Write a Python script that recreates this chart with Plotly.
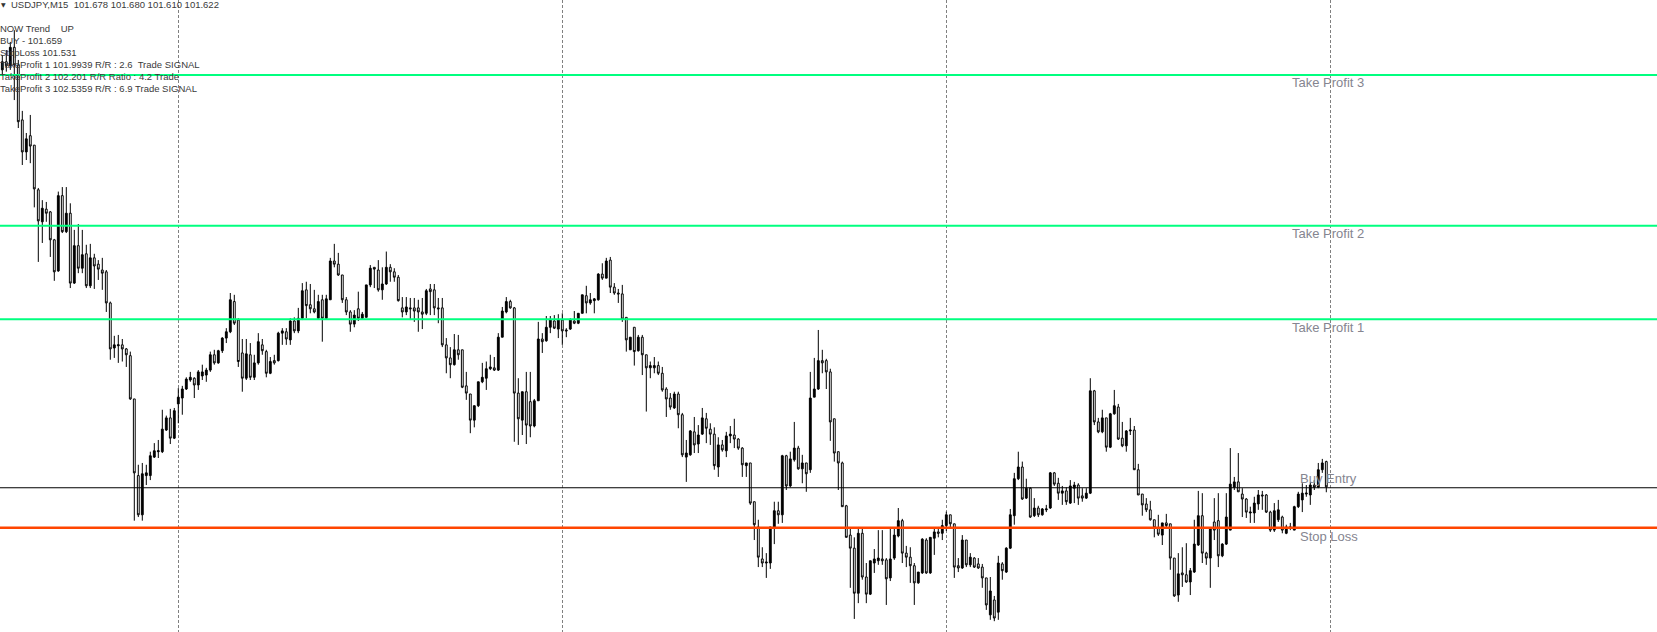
import plotly.graph_objects as go

# ---------------- data (USDJPY M15, bar index 0 = oldest visible bar) ----------------
open_ = [
102.547,102.565,102.556,102.597,102.558,102.436,102.365,102.401,102.380,102.281,
102.210,102.238,102.232,102.170,102.101,102.268,102.188,102.229,102.074,102.157,
102.107,102.139,102.068,102.130,102.116,102.103,102.099,102.030,101.930,101.935,
101.937,101.928,101.913,101.817,101.647,101.560,101.647,101.647,101.688,101.700,
101.700,101.748,101.775,101.730,101.806,101.819,101.839,101.859,101.863,101.848,
101.868,101.870,101.881,101.915,101.897,101.924,101.952,101.966,102.033,101.992,
101.919,101.863,101.915,101.865,101.897,101.937,101.922,101.874,101.902,101.902,
101.963,101.966,101.948,101.990,101.968,101.996,102.059,102.026,102.017,101.996,
102.037,101.996,102.037,102.123,102.116,102.092,102.037,102.010,101.983,102.017,
101.996,101.998,102.070,102.109,102.103,102.059,102.072,102.109,102.099,102.087,
102.019,102.010,102.019,102.019,102.019,102.010,102.007,102.061,102.059,102.019,
102.019,101.937,101.908,101.893,101.926,101.926,101.846,101.828,101.770,101.802,
101.855,101.863,101.884,101.886,101.881,101.954,102.010,102.033,102.019,101.830,
101.770,101.833,101.811,101.757,101.813,101.950,101.946,101.976,101.990,101.972,
101.992,101.970,101.972,101.990,101.985,102.007,102.046,102.030,102.035,102.037,
102.094,102.085,102.125,102.065,102.052,102.050,101.998,101.926,101.976,101.924,
101.954,101.915,101.886,101.886,101.891,101.874,101.839,101.819,101.797,101.828,
101.782,101.688,101.693,101.744,101.717,101.739,101.773,101.750,101.739,101.666,
101.715,101.702,101.735,101.737,101.728,101.708,101.669,101.675,101.589,101.533,
101.462,101.453,101.453,101.533,101.569,101.560,101.691,101.624,101.682,101.708,
101.662,101.675,101.660,101.821,101.839,101.902,101.902,101.877,101.773,101.700,
101.675,101.580,101.515,101.486,101.386,101.519,101.422,101.384,101.453,101.458,
101.462,101.460,101.420,101.464,101.513,101.547,101.475,101.466,101.447,101.409,
101.431,101.504,101.431,101.508,101.522,101.519,101.536,101.560,101.540,101.447,
101.442,101.504,101.449,101.464,101.451,101.444,101.420,101.338,101.371,101.344,
101.451,101.433,101.486,101.558,101.640,101.666,101.597,101.619,101.558,101.575,
101.560,101.571,101.575,101.653,101.630,101.608,101.613,101.586,101.619,101.626,
101.602,101.597,101.608,101.835,101.766,101.744,101.775,101.710,101.784,101.799,
101.730,101.713,101.746,101.748,101.660,101.606,101.584,101.571,101.549,101.531,
101.515,101.542,101.540,101.464,101.382,101.431,101.427,101.411,101.433,101.493,
101.558,101.475,101.464,101.544,101.547,101.469,101.495,101.526,101.621,101.633,
101.606,101.595,101.564,101.564,101.584,101.604,101.604,101.566,101.526,101.549,
101.555,101.519,101.531,101.526,101.578,101.593,101.606,101.604,101.626,101.621,
101.660,101.678]

high = [
102.580,102.591,102.609,102.635,102.569,102.456,102.407,102.447,102.380,102.285,
102.258,102.254,102.234,102.172,102.277,102.287,102.287,102.251,102.192,102.205,
102.192,102.159,102.161,102.139,102.125,102.130,102.103,102.033,101.957,101.959,
101.950,101.930,101.922,101.817,101.671,101.675,101.671,101.700,101.719,101.726,
101.793,101.780,101.795,101.797,101.841,101.846,101.865,101.877,101.865,101.881,
101.893,101.886,101.922,101.926,101.926,101.954,101.974,102.052,102.048,101.996,
101.950,101.950,101.941,101.915,101.963,101.950,101.926,101.910,101.915,101.966,
101.974,101.974,101.996,101.998,102.019,102.074,102.077,102.072,102.059,102.048,
102.048,102.048,102.130,102.161,102.141,102.092,102.043,102.014,102.014,102.055,
102.010,102.070,102.114,102.109,102.125,102.109,102.144,102.116,102.107,102.092,
102.043,102.043,102.041,102.041,102.037,102.041,102.061,102.072,102.072,102.041,
102.041,101.952,101.932,101.961,101.959,101.926,101.877,101.828,101.802,101.855,
101.897,101.900,101.915,101.910,101.963,102.021,102.043,102.037,102.021,101.863,
101.833,101.877,101.877,101.817,101.988,101.963,102.001,102.001,102.003,102.005,
102.007,101.974,101.996,102.012,102.007,102.048,102.068,102.052,102.041,102.096,
102.118,102.130,102.132,102.074,102.061,102.070,101.998,101.954,101.976,101.959,
101.959,101.915,101.900,101.910,101.900,101.888,101.843,101.830,101.833,101.833,
101.786,101.726,101.748,101.777,101.759,101.797,101.786,101.763,101.754,101.732,
101.726,101.744,101.757,101.773,101.730,101.710,101.675,101.675,101.589,101.549,
101.488,101.475,101.533,101.589,101.589,101.693,101.693,101.700,101.766,101.713,
101.693,101.675,101.877,101.908,101.970,101.926,101.906,101.884,101.773,101.700,
101.678,101.582,101.531,101.510,101.533,101.531,101.453,101.458,101.484,101.526,
101.526,101.464,101.533,101.533,101.575,101.551,101.491,101.488,101.453,101.433,
101.508,101.508,101.510,101.529,101.533,101.549,101.567,101.560,101.540,101.464,
101.515,101.504,101.475,101.466,101.464,101.451,101.420,101.422,101.380,101.469,
101.455,101.488,101.573,101.653,101.700,101.678,101.640,101.621,101.597,101.580,
101.575,101.582,101.655,101.655,101.642,101.624,101.621,101.637,101.633,101.630,
101.619,101.619,101.863,101.837,101.775,101.793,101.775,101.786,101.837,101.806,
101.766,101.748,101.775,101.757,101.673,101.606,101.597,101.591,101.549,101.560,
101.542,101.562,101.540,101.464,101.475,101.488,101.497,101.442,101.549,101.613,
101.608,101.478,101.533,101.597,101.608,101.497,101.608,101.708,101.644,101.697,
101.619,101.597,101.578,101.600,101.615,101.613,101.606,101.569,101.586,101.593,
101.558,101.538,101.542,101.580,101.611,101.630,101.626,101.633,101.637,101.675,
101.684,101.680]

low = [
102.536,102.543,102.547,102.480,102.418,102.336,102.347,102.340,102.242,102.121,
102.163,102.210,102.132,102.079,102.099,102.185,102.185,102.063,102.072,102.096,
102.096,102.063,102.063,102.061,102.081,102.059,102.010,101.904,101.908,101.897,
101.900,101.888,101.815,101.547,101.555,101.547,101.626,101.637,101.686,101.686,
101.697,101.746,101.717,101.728,101.763,101.782,101.837,101.855,101.819,101.837,
101.859,101.855,101.877,101.893,101.895,101.919,101.941,101.963,101.981,101.888,
101.833,101.859,101.859,101.859,101.893,101.915,101.865,101.872,101.893,101.900,
101.937,101.937,101.937,101.963,101.963,101.992,101.996,102.007,102.007,101.994,
101.944,101.994,102.037,102.109,102.090,102.030,102.003,101.966,101.976,101.990,
101.994,101.998,102.065,102.063,102.055,102.037,102.070,102.077,102.077,102.033,
101.998,102.003,101.992,101.988,101.966,101.972,102.003,102.003,102.003,101.985,
101.932,101.874,101.863,101.891,101.904,101.841,101.815,101.741,101.754,101.799,
101.852,101.837,101.881,101.879,101.879,101.954,102.007,102.017,101.722,101.715,
101.737,101.717,101.732,101.754,101.813,101.919,101.944,101.963,101.972,101.952,
101.937,101.954,101.970,101.983,101.983,102.007,102.007,102.026,102.007,102.035,
102.081,102.085,102.052,102.048,102.030,101.988,101.922,101.926,101.891,101.922,
101.870,101.789,101.863,101.874,101.870,101.833,101.777,101.793,101.795,101.752,
101.688,101.633,101.691,101.697,101.697,101.737,101.719,101.715,101.660,101.644,
101.700,101.688,101.719,101.708,101.704,101.644,101.644,101.582,101.504,101.444,
101.444,101.420,101.440,101.495,101.540,101.542,101.615,101.621,101.678,101.660,
101.630,101.611,101.653,101.821,101.837,101.874,101.839,101.724,101.678,101.615,
101.578,101.510,101.398,101.329,101.364,101.416,101.364,101.382,101.431,101.449,
101.449,101.360,101.413,101.460,101.510,101.453,101.444,101.409,101.360,101.407,
101.429,101.429,101.429,101.471,101.510,101.504,101.524,101.531,101.420,101.433,
101.440,101.444,101.444,101.442,101.440,101.398,101.349,101.327,101.324,101.327,
101.416,101.431,101.484,101.538,101.637,101.593,101.595,101.553,101.555,101.555,
101.558,101.566,101.573,101.624,101.593,101.582,101.582,101.584,101.586,101.582,
101.589,101.595,101.606,101.759,101.741,101.741,101.700,101.708,101.782,101.726,
101.710,101.700,101.737,101.660,101.604,101.558,101.566,101.547,101.510,101.513,
101.493,101.533,101.438,101.378,101.367,101.400,101.409,101.382,101.431,101.491,
101.453,101.449,101.398,101.504,101.444,101.466,101.493,101.526,101.615,101.611,
101.555,101.553,101.542,101.542,101.571,101.571,101.564,101.522,101.522,101.544,
101.519,101.517,101.526,101.526,101.575,101.566,101.600,101.582,101.615,101.619,
101.653,101.610]

close = [
102.565,102.556,102.597,102.558,102.432,102.365,102.394,102.378,102.283,102.212,
102.240,102.229,102.170,102.099,102.268,102.188,102.229,102.074,102.157,102.107,
102.137,102.068,102.130,102.112,102.105,102.096,102.030,101.928,101.937,101.937,
101.928,101.915,101.817,101.653,101.560,101.651,101.653,101.691,101.702,101.702,
101.750,101.775,101.730,101.791,101.821,101.839,101.861,101.865,101.848,101.877,
101.877,101.881,101.915,101.897,101.924,101.952,101.966,102.037,101.985,101.900,
101.863,101.917,101.865,101.897,101.944,101.924,101.874,101.900,101.897,101.963,
101.968,101.950,101.990,101.968,101.996,102.057,102.024,102.017,102.010,102.033,
101.996,102.039,102.123,102.116,102.092,102.037,102.010,101.983,102.003,101.996,
102.005,102.070,102.107,102.105,102.059,102.072,102.109,102.099,102.087,102.035,
102.010,102.021,102.017,102.012,102.010,102.005,102.057,102.055,102.019,102.017,
101.937,101.908,101.893,101.926,101.915,101.843,101.830,101.770,101.802,101.855,
101.865,101.884,101.888,101.881,101.954,102.012,102.033,102.019,101.830,101.773,
101.833,101.759,101.757,101.813,101.950,101.944,101.976,101.992,101.974,101.992,
101.968,101.968,101.992,101.985,102.007,102.048,102.030,102.037,102.039,102.094,
102.085,102.123,102.065,102.052,102.050,101.994,101.948,101.954,101.922,101.954,
101.915,101.886,101.891,101.891,101.874,101.837,101.817,101.799,101.828,101.782,
101.693,101.697,101.746,101.715,101.737,101.775,101.752,101.739,101.669,101.715,
101.704,101.735,101.739,101.728,101.708,101.671,101.675,101.586,101.538,101.466,
101.453,101.455,101.533,101.569,101.560,101.691,101.624,101.684,101.708,101.662,
101.675,101.651,101.819,101.839,101.902,101.897,101.877,101.766,101.697,101.675,
101.578,101.510,101.486,101.386,101.519,101.422,101.384,101.458,101.462,101.464,
101.458,101.418,101.462,101.515,101.547,101.475,101.466,101.447,101.409,101.433,
101.506,101.431,101.510,101.522,101.519,101.536,101.560,101.540,101.444,101.442,
101.504,101.449,101.466,101.444,101.442,101.420,101.360,101.391,101.331,101.453,
101.436,101.486,101.560,101.640,101.666,101.595,101.619,101.555,101.575,101.560,
101.573,101.573,101.653,101.628,101.608,101.613,101.589,101.624,101.626,101.597,
101.597,101.608,101.835,101.766,101.744,101.775,101.710,101.784,101.802,101.728,
101.713,101.746,101.748,101.660,101.604,101.582,101.571,101.549,101.531,101.517,
101.542,101.536,101.464,101.380,101.429,101.427,101.411,101.436,101.495,101.558,
101.475,101.464,101.529,101.526,101.469,101.495,101.555,101.628,101.633,101.611,
101.595,101.566,101.566,101.586,101.604,101.602,101.566,101.526,101.569,101.571,
101.526,101.533,101.533,101.578,101.606,101.608,101.608,101.626,101.621,101.660,
101.675,101.622]

bars = list(range(len(close)))

# day separators (bar index where a new trading day starts)
day_starts = [44, 140, 236, 332]

# signal levels
level_names = ["Take Profit 3", "Take Profit 2", "Take Profit 1", "Buy Entry", "Stop Loss"]
level_prices = [102.5359, 102.201, 101.9939, 101.620, 101.531]

# info panel text
header_text = "USDJPY,M15  101.678 101.680 101.610 101.622"
info_lines = [
    "NOW Trend    UP",
    "BUY - 101.659",
    "StopLoss 101.531",
    "TakeProfit 1 101.9939 R/R : 2.6  Trade SIGNAL",
    "TakeProfit 2 102.201 R/R Ratio : 4.2 Trade",
    "TakeProfit 3 102.5359 R/R : 6.9 Trade SIGNAL",
]

# ---------------- figure ----------------
W, H = 1657, 632
fig = go.Figure()
fig.add_trace(go.Candlestick(
    x=bars, open=open_, high=high, low=low, close=close,
    increasing=dict(line=dict(color="black", width=1), fillcolor="black"),
    decreasing=dict(line=dict(color="black", width=1), fillcolor="white"),
    whiskerwidth=0, showlegend=False, hoverinfo="skip",
))

line_styles = {
    "Take Profit 3": ("#00FF7F", 2),
    "Take Profit 2": ("#00FF7F", 2),
    "Take Profit 1": ("#00FF7F", 2),
    "Buy Entry": ("#000000", 1),
    "Stop Loss": ("#FF4500", 2.5),
}
label_shift = {
    "Take Profit 3": (0, -8),
    "Take Profit 2": (0, -8),
    "Take Profit 1": (0, -8),
    "Buy Entry": (8, 9),
    "Stop Loss": (8, -9),
}
for name, price in zip(level_names, level_prices):
    col, w = line_styles[name]
    fig.add_shape(type="line", xref="paper", x0=0, x1=1, yref="y", y0=price, y1=price,
                  line=dict(color=col, width=w), layer="above")
    dx, dy = label_shift[name]
    fig.add_annotation(text=name, xref="paper", x=1290 / W, xanchor="left", xshift=dx,
                       yref="y", y=price, yanchor="middle", yshift=dy, showarrow=False,
                       font=dict(family="Liberation Sans, Arial, sans-serif", size=13, color="#858590"))

info_font = dict(family="Liberation Sans, Arial, sans-serif", size=9.5, color="#3a3a3a")
fig.add_annotation(text=header_text, xref="paper", x=9 / W, xanchor="left",
                   yref="paper", y=1 - 4 / H, yanchor="middle", showarrow=False, font=info_font)
fig.add_annotation(text="▼", xref="paper", x=0, xanchor="left", xshift=-1,
                   yref="paper", y=1 - 4 / H, yanchor="middle", showarrow=False,
                   font=dict(family="DejaVu Sans", size=6, color="#333333"))
for i, t in enumerate(info_lines):
    yc = 28.3 + i * 12
    fig.add_annotation(text=t, xref="paper", x=0, xanchor="left", xshift=-2,
                       yref="paper", y=1 - yc / H, yanchor="middle", showarrow=False, font=info_font)

px_per_bar = 4.0
x0 = -2.3 / px_per_bar
fig.update_layout(
    width=W, height=H, autosize=False,
    margin=dict(l=0, r=0, t=0, b=0),
    paper_bgcolor="white", plot_bgcolor="white",
    boxgap=0.35, showlegend=False,
    xaxis=dict(range=[x0, x0 + W / px_per_bar], rangeslider=dict(visible=False),
               tickmode="array", tickvals=day_starts, showticklabels=False, ticks="",
               showgrid=True, gridcolor="#808080", gridwidth=1, griddash="3px,2px",
               zeroline=False, showline=False, fixedrange=True),
    yaxis=dict(range=[101.300, 102.702], showgrid=False, showticklabels=False,
               zeroline=False, showline=False, ticks="", fixedrange=True),
)

fig.write_html("out.html", config={"displayModeBar": False},
               post_script="document.body.style.margin='0';document.body.style.overflow='hidden';")
